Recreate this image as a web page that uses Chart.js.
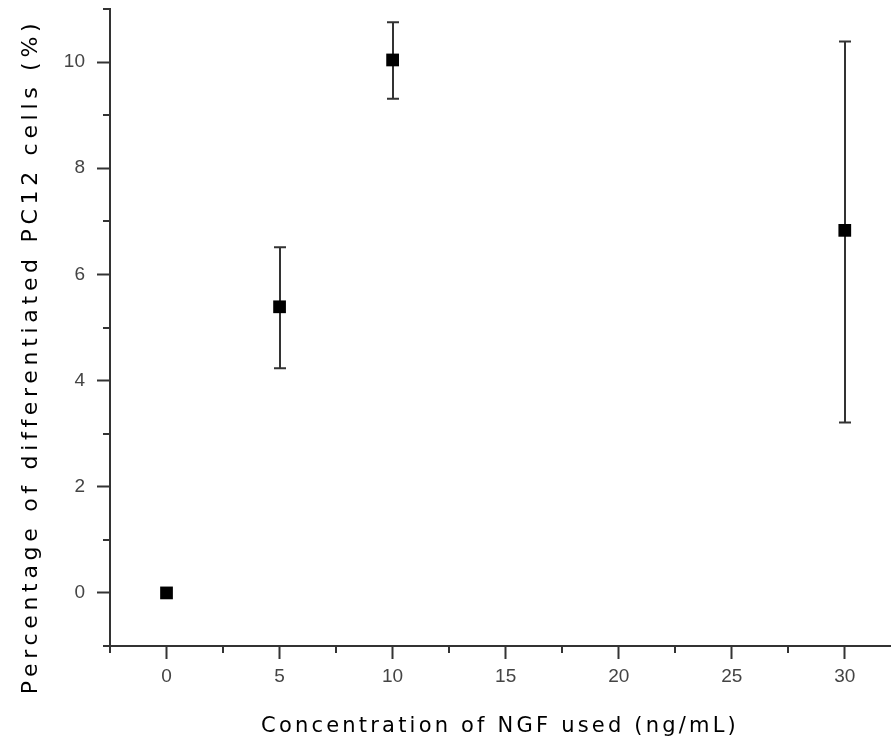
<!DOCTYPE html>
<html>
<head>
<meta charset="utf-8">
<script src="https://cdn.jsdelivr.net/npm/chart.js@4.4.1/dist/chart.umd.min.js"></script>
<style>
  html, body { margin: 0; padding: 0; background: #fff; }
  #wrap { width: 891px; height: 746px; }
</style>
</head>
<body>
<div id="wrap"><canvas id="ngfChart" width="891" height="746"></canvas></div>
<script>
// NGF dose (ng/mL) vs. share of differentiated PC12 cells, mean with error range
const concentrations = [0, 5, 10, 30];
const percentDiff = [0, 5.39, 10.04, 6.83];
const errLow = [0, 4.23, 9.31, 3.21];
const errHigh = [0, 6.51, 10.75, 10.39];

const xMajorTicks = [0, 5, 10, 15, 20, 25, 30];
const xMinorTicks = [-2.5, 2.5, 7.5, 12.5, 17.5, 22.5, 27.5];
const yMajorTicks = [0, 2, 4, 6, 8, 10];
const yMinorTicks = [-1, 1, 3, 5, 7, 9, 11];

const xTitle = 'Concentration of NGF used (ng/mL)';
const yTitle = 'Percentage of differentiated PC12 cells (%)';

const AXIS_COLOR = '#333';
const FONT = '"Liberation Sans", Arial, sans-serif';
const TITLE_FONT = '"DejaVu Sans", sans-serif';

// short ticks halfway between the labelled ones
const minorTicks = {
    id: 'minorTicks',
    afterDraw(chart) {
        const { ctx, chartArea, scales } = chart;
        ctx.save();
        ctx.strokeStyle = AXIS_COLOR;
        ctx.lineWidth = 2;
        ctx.beginPath();
        xMinorTicks.forEach(v => {
            const px = Math.round(scales.x.getPixelForValue(v));
            ctx.moveTo(px, chartArea.bottom);
            ctx.lineTo(px, chartArea.bottom + 7);
        });
        yMinorTicks.forEach(v => {
            const py = Math.round(scales.y.getPixelForValue(v));
            ctx.moveTo(chartArea.left, py);
            ctx.lineTo(chartArea.left - 7, py);
        });
        ctx.stroke();
        ctx.restore();
    }
};

// vertical error bars with flat caps, drawn under the markers
const errorBars = {
    id: 'errorBars',
    beforeDatasetsDraw(chart) {
        const { ctx, scales } = chart;
        ctx.save();
        ctx.strokeStyle = AXIS_COLOR;
        ctx.lineWidth = 2;
        concentrations.forEach((c, i) => {
            if (errLow[i] === errHigh[i]) return;
            const px = Math.round(scales.x.getPixelForValue(c));
            const top = scales.y.getPixelForValue(errHigh[i]);
            const bottom = scales.y.getPixelForValue(errLow[i]);
            ctx.beginPath();
            ctx.moveTo(px, top);
            ctx.lineTo(px, bottom);
            ctx.moveTo(px - 6, top);
            ctx.lineTo(px + 6, top);
            ctx.moveTo(px - 6, bottom);
            ctx.lineTo(px + 6, bottom);
            ctx.stroke();
        });
        ctx.restore();
    }
};

// axis titles, spaced out a little
const axisTitles = {
    id: 'axisTitles',
    afterDraw(chart) {
        const { ctx, chartArea } = chart;
        ctx.save();
        ctx.fillStyle = '#000';
        ctx.font = '21px ' + TITLE_FONT;
        ctx.textAlign = 'center';
        ctx.textBaseline = 'alphabetic';
        ctx.letterSpacing = '3.2px';
        ctx.fillText(xTitle, (chartArea.left + chartArea.right) / 2, chartArea.bottom + 86);

        ctx.letterSpacing = '4.7px';
        ctx.font = '22px ' + TITLE_FONT;
        ctx.translate(chartArea.left - 73, (chartArea.top + chartArea.bottom) / 2 + 29);
        ctx.rotate(-Math.PI / 2);
        ctx.fillText(yTitle, 0, 0);
        ctx.restore();
    }
};

new Chart(document.getElementById('ngfChart'), {
    type: 'scatter',
    data: {
        datasets: [{
            data: concentrations.map((c, i) => ({ x: c, y: percentDiff[i] })),
            pointStyle: 'rect',
            pointRadius: 9,
            pointHoverRadius: 9,
            backgroundColor: '#000',
            borderColor: '#000',
            borderWidth: 0,
            showLine: false
        }]
    },
    options: {
        responsive: false,
        animation: false,
        layout: { autoPadding: false, padding: { top: 9, right: 1, left: 0, bottom: 0 } },
        plugins: {
            legend: { display: false },
            tooltip: { enabled: false }
        },
        scales: {
            x: {
                type: 'linear',
                min: -2.5,
                max: 32,
                afterBuildTicks: scale => { scale.ticks = xMajorTicks.map(v => ({ value: v })); },
                afterFit: scale => {
                    scale.height = 100;
                    scale.paddingLeft = 0;
                    scale.paddingRight = 0;
                },
                grid: { drawOnChartArea: false, tickLength: 13, tickColor: AXIS_COLOR, tickWidth: 2 },
                border: { color: AXIS_COLOR, width: 2 },
                ticks: { color: '#444', padding: 6, font: { family: FONT, size: 19 } }
            },
            y: {
                type: 'linear',
                min: -1,
                max: 11,
                afterBuildTicks: scale => { scale.ticks = yMajorTicks.map(v => ({ value: v })); },
                afterFit: scale => {
                    scale.width = 110;
                    scale.paddingTop = 0;
                    scale.paddingBottom = 0;
                },
                grid: { drawOnChartArea: false, tickLength: 13, tickColor: AXIS_COLOR, tickWidth: 2 },
                border: { color: AXIS_COLOR, width: 2 },
                ticks: { color: '#444', padding: 12, font: { family: FONT, size: 19 } }
            }
        }
    },
    plugins: [errorBars, minorTicks, axisTitles]
});
</script>
</body>
</html>
